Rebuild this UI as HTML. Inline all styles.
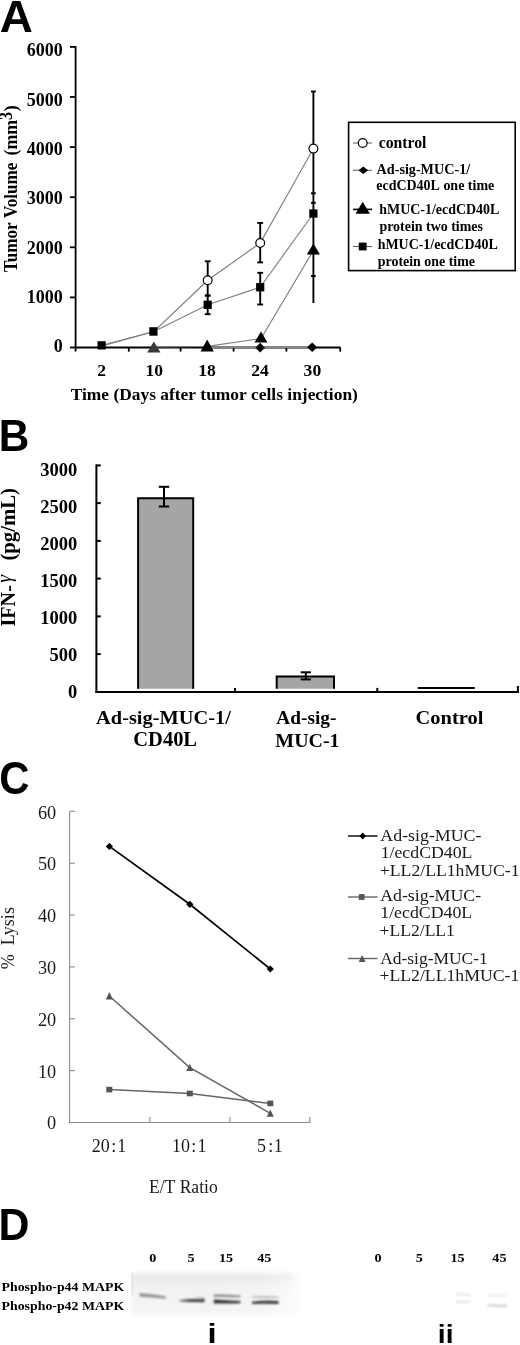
<!DOCTYPE html>
<html><head><meta charset="utf-8"><style>
html,body{margin:0;padding:0;background:#fff;width:520px;height:1345px;overflow:hidden}
svg{display:block;will-change:transform}
</style></head><body>
<svg width="520" height="1345" viewBox="0 0 520 1345">
<rect width="520" height="1345" fill="#fff"/>
<!-- PANEL A -->
<text font-family="'Liberation Sans', sans-serif" font-weight="bold" font-size="44.91" fill="#000" transform="translate(-0.24,31.70) scale(1.0222,1)">A</text>
<g stroke="#000" stroke-width="1.8" fill="none">
  <line x1="75.6" y1="46.2" x2="75.6" y2="351.4"/>
  <line x1="74.8" y1="347.5" x2="340.4" y2="347.5"/>
  <line x1="69.9" y1="347.5" x2="75.6" y2="347.5"/>
  <line x1="69.9" y1="297.4" x2="75.6" y2="297.4"/>
  <line x1="69.9" y1="247.3" x2="75.6" y2="247.3"/>
  <line x1="69.9" y1="197.2" x2="75.6" y2="197.2"/>
  <line x1="69.9" y1="147.1" x2="75.6" y2="147.1"/>
  <line x1="69.9" y1="97.0" x2="75.6" y2="97.0"/>
  <line x1="69.9" y1="46.9" x2="75.6" y2="46.9"/>
  <line x1="128.8" y1="347.5" x2="128.8" y2="351.6"/>
  <line x1="180.6" y1="347.5" x2="180.6" y2="351.6"/>
  <line x1="233.6" y1="347.5" x2="233.6" y2="351.6"/>
  <line x1="286.4" y1="347.5" x2="286.4" y2="351.6"/>
  <line x1="340.2" y1="347.5" x2="340.2" y2="351.6"/>
</g>
<text font-family="'Liberation Serif', serif" font-weight="bold" font-size="18.00" fill="#000" transform="translate(53.79,352.20) scale(1.0000,1)">0</text>
<text font-family="'Liberation Serif', serif" font-weight="bold" font-size="18.00" fill="#000" transform="translate(26.79,302.87) scale(1.0000,1)">1000</text>
<text font-family="'Liberation Serif', serif" font-weight="bold" font-size="18.00" fill="#000" transform="translate(26.79,253.54) scale(1.0000,1)">2000</text>
<text font-family="'Liberation Serif', serif" font-weight="bold" font-size="18.00" fill="#000" transform="translate(26.79,204.21) scale(1.0000,1)">3000</text>
<text font-family="'Liberation Serif', serif" font-weight="bold" font-size="18.00" fill="#000" transform="translate(26.79,154.88) scale(1.0000,1)">4000</text>
<text font-family="'Liberation Serif', serif" font-weight="bold" font-size="18.00" fill="#000" transform="translate(26.79,105.55) scale(1.0000,1)">5000</text>
<text font-family="'Liberation Serif', serif" font-weight="bold" font-size="18.00" fill="#000" transform="translate(26.79,56.22) scale(1.0000,1)">6000</text>
<text font-family="'Liberation Serif', serif" font-weight="bold" font-size="18.00" fill="#000" transform="translate(17.30,272.07) rotate(-90) scale(0.9503,1)">Tumor&#160;Volume</text>
<text font-family="'Liberation Serif', serif" font-weight="bold" font-size="18.00" fill="#000" transform="translate(17.30,155.48) rotate(-90) scale(0.9861,1)">(mm</text>
<text font-family="'Liberation Serif', serif" font-weight="bold" font-size="19.05" fill="#000" transform="translate(12.01,120.01) rotate(-90) scale(0.8458,1)">3</text>
<text font-family="'Liberation Serif', serif" font-weight="bold" font-size="18.00" fill="#000" transform="translate(17.30,111.18) rotate(-90) scale(0.9950,1)">)</text>
<text font-family="'Liberation Serif', serif" font-weight="bold" font-size="17.60" fill="#000" transform="translate(97.31,376.10) scale(1.0000,1)">2</text>
<text font-family="'Liberation Serif', serif" font-weight="bold" font-size="17.60" fill="#000" transform="translate(145.48,376.10) scale(1.0000,1)">10</text>
<text font-family="'Liberation Serif', serif" font-weight="bold" font-size="17.60" fill="#000" transform="translate(198.24,376.10) scale(1.0000,1)">18</text>
<text font-family="'Liberation Serif', serif" font-weight="bold" font-size="17.60" fill="#000" transform="translate(251.19,376.10) scale(1.0000,1)">24</text>
<text font-family="'Liberation Serif', serif" font-weight="bold" font-size="17.60" fill="#000" transform="translate(303.60,376.10) scale(1.0000,1)">30</text>
<text font-family="'Liberation Serif', serif" font-weight="bold" font-size="15.76" fill="#000" transform="translate(70.73,400.30) scale(1.1046,1)">Time&#160;(Days&#160;after&#160;tumor&#160;cells&#160;injection)</text>
<g stroke="#7c7c7c" stroke-width="1.1" fill="none">
  <polyline points="102,346 154,331.5 207.7,280.3 260.2,243 313.4,148.6"/>
  <polyline points="102,345.2 154,331.5 207.7,304.8 260.2,287.2 313.4,213.5"/>
  <polyline points="154,347.0 207.5,346.4 261,338.5 313.4,250.5"/>
  <line x1="207.5" y1="347.5" x2="313.4" y2="347.3" stroke-width="1.6" stroke="#888"/>
</g>
<g stroke="#000" stroke-width="1.9" fill="none">
  <line x1="207.7" y1="261.3" x2="207.7" y2="314.2"/>
  <line x1="204.8" y1="261.3" x2="210.6" y2="261.3"/>
  <line x1="204.8" y1="295.6" x2="210.6" y2="295.6" stroke-width="2.4"/>
  <line x1="204.8" y1="314.2" x2="210.6" y2="314.2"/>
  <line x1="260.2" y1="222.9" x2="260.2" y2="262.4"/>
  <line x1="257.3" y1="222.9" x2="263.1" y2="222.9"/>
  <line x1="257.3" y1="262.4" x2="263.1" y2="262.4"/>
  <line x1="260.2" y1="272.8" x2="260.2" y2="304.5"/>
  <line x1="257.3" y1="272.8" x2="263.1" y2="272.8"/>
  <line x1="257.3" y1="304.5" x2="263.1" y2="304.5"/>
  <line x1="313.4" y1="91.5" x2="313.4" y2="303"/>
  <line x1="311" y1="91.5" x2="315.8" y2="91.5"/>
  <line x1="311" y1="193.3" x2="315.8" y2="193.3"/>
  <line x1="311" y1="202.8" x2="315.8" y2="202.8"/>
  <line x1="311" y1="276.1" x2="315.8" y2="276.1"/>
</g>
<g fill="#000">
  <rect x="97.5" y="341.2" width="8.2" height="8.3"/>
  <rect x="149.3" y="327.2" width="8.2" height="8.5"/>
  <rect x="203.6" y="300.6" width="8.2" height="8.4"/>
  <rect x="256.1" y="283" width="8.2" height="8.4"/>
  <rect x="309.3" y="209.4" width="8.2" height="8.3"/>
  <polygon points="153.9,341.6 147.2,352.6 160.5,352.6" fill="#3a3a3a"/>
  <polygon points="207.2,339.6 200.5,351.5 213.8,351.5"/>
  <polygon points="261,331.6 254.5,342.5 267.5,342.5"/>
  <polygon points="313.4,243.5 306.8,254.6 320,254.6"/>
  <polygon points="260.2,342.8 265,347.7 260.2,352.6 255.4,347.7"/>
  <polygon points="312.2,342.5 317.3,347.3 312.2,352.1 307.1,347.3"/>
</g>
<g fill="#fff" stroke="#000" stroke-width="1.2">
  <circle cx="207.7" cy="280.3" r="4.4"/>
  <circle cx="260.2" cy="243" r="4.4"/>
  <circle cx="313.4" cy="148.6" r="4.4"/>
</g>
<rect x="348.6" y="122.3" width="166.6" height="148.3" fill="none" stroke="#000" stroke-width="1.6"/>
<g stroke="#666" stroke-width="1.1">
  <line x1="353" y1="143" x2="372" y2="143"/>
  <line x1="353" y1="170.3" x2="372" y2="170.3"/>
  <line x1="353" y1="209.4" x2="372" y2="209.4" stroke="#000" stroke-width="1.6"/>
  <line x1="353" y1="246.5" x2="372" y2="246.5"/>
</g>
<circle cx="362.7" cy="143" r="4.4" fill="#fff" stroke="#000" stroke-width="1.2"/>
<polygon points="363.3,166.6 368.1,170.3 363.3,174 358.5,170.3" fill="#000"/>
<polygon points="362.7,201.7 355.5,213.7 369.9,213.7" fill="#000"/>
<rect x="358.8" y="242.6" width="7.8" height="7.8" fill="#000"/>
<text font-family="'Liberation Serif', serif" font-weight="bold" font-size="15.85" fill="#000" transform="translate(378.66,148.00) scale(0.9934,1)">control</text>
<text font-family="'Liberation Serif', serif" font-weight="bold" font-size="14.10" fill="#000" transform="translate(376.56,174.20) scale(1.0052,1)">Ad-sig-MUC-1/</text>
<text font-family="'Liberation Serif', serif" font-weight="bold" font-size="14.10" fill="#000" transform="translate(376.22,189.50) scale(0.9924,1)">ecdCD40L&#160;one&#160;time</text>
<text font-family="'Liberation Serif', serif" font-weight="bold" font-size="14.10" fill="#000" transform="translate(379.25,213.70) scale(0.9895,1)">hMUC-1/ecdCD40L</text>
<text font-family="'Liberation Serif', serif" font-weight="bold" font-size="14.10" fill="#000" transform="translate(379.42,230.60) scale(0.9902,1)">protein&#160;two&#160;times</text>
<text font-family="'Liberation Serif', serif" font-weight="bold" font-size="14.10" fill="#000" transform="translate(377.65,249.40) scale(0.9895,1)">hMUC-1/ecdCD40L</text>
<text font-family="'Liberation Serif', serif" font-weight="bold" font-size="14.10" fill="#000" transform="translate(377.82,265.60) scale(0.9884,1)">protein&#160;one&#160;time</text>
<!-- PANEL B -->
<text font-family="'Liberation Sans', sans-serif" font-weight="bold" font-size="44.48" fill="#000" transform="translate(-1.33,450.80) scale(0.9511,1)">B</text>
<g stroke="#000" stroke-width="2" fill="none">
  <line x1="96.4" y1="464.5" x2="96.4" y2="693"/>
  <line x1="95.4" y1="692" x2="518.8" y2="692"/>
  <line x1="96.4" y1="465.4" x2="100.8" y2="465.4"/>
  <line x1="96.4" y1="503.1" x2="100.8" y2="503.1"/>
  <line x1="96.4" y1="540.9" x2="100.8" y2="540.9"/>
  <line x1="96.4" y1="578.6" x2="100.8" y2="578.6"/>
  <line x1="96.4" y1="616.4" x2="100.8" y2="616.4"/>
  <line x1="96.4" y1="654.1" x2="100.8" y2="654.1"/>
  <line x1="235" y1="687.9" x2="235" y2="692"/>
  <line x1="377.3" y1="687.9" x2="377.3" y2="692"/>
  <line x1="517.9" y1="686" x2="517.9" y2="693"/>
</g>
<text font-family="'Liberation Serif', serif" font-weight="bold" font-size="18.50" fill="#000" transform="translate(40.20,475.70) scale(1.0000,1)">3000</text>
<text font-family="'Liberation Serif', serif" font-weight="bold" font-size="18.50" fill="#000" transform="translate(40.20,512.80) scale(1.0000,1)">2500</text>
<text font-family="'Liberation Serif', serif" font-weight="bold" font-size="18.50" fill="#000" transform="translate(40.20,549.90) scale(1.0000,1)">2000</text>
<text font-family="'Liberation Serif', serif" font-weight="bold" font-size="18.50" fill="#000" transform="translate(40.20,587.00) scale(1.0000,1)">1500</text>
<text font-family="'Liberation Serif', serif" font-weight="bold" font-size="18.50" fill="#000" transform="translate(40.20,624.10) scale(1.0000,1)">1000</text>
<text font-family="'Liberation Serif', serif" font-weight="bold" font-size="18.50" fill="#000" transform="translate(49.45,661.20) scale(1.0000,1)">500</text>
<text font-family="'Liberation Serif', serif" font-weight="bold" font-size="18.50" fill="#000" transform="translate(67.95,698.30) scale(1.0000,1)">0</text>
<text font-family="'Liberation Serif', serif" font-weight="bold" font-size="20.62" fill="#000" transform="translate(14.90,626.48) rotate(-90) scale(0.9750,1)">IFN-</text>
<text font-style="italic" font-family="'Liberation Serif', serif" font-weight="normal" font-size="22.03" fill="#000" transform="translate(11.01,582.67) rotate(-90) scale(0.8963,1)">γ</text>
<text font-family="'Liberation Serif', serif" font-weight="bold" font-size="20.18" fill="#000" transform="translate(14.90,560.61) rotate(-90) scale(1.0284,1)">(pg/mL)</text>
<path d="M138.1,688.8 V498.2 H193.2 V688.8 Z" fill="#a5a5a5"/>
<path d="M138.1,688.8 V498.2 H193.2 V688.8" fill="none" stroke="#000" stroke-width="2"/>
<path d="M276.7,688.8 V676.4 H334 V688.8 Z" fill="#a5a5a5"/>
<path d="M276.7,688.8 V676.4 H334 V688.8" fill="none" stroke="#000" stroke-width="2"/>
<line x1="417.7" y1="688" x2="474.8" y2="688" stroke="#000" stroke-width="1.9"/>
<g stroke="#000" stroke-width="2" fill="none">
  <line x1="164" y1="486.8" x2="164" y2="506.5"/>
  <line x1="158.8" y1="486.8" x2="169.2" y2="486.8"/>
  <line x1="158.8" y1="506.5" x2="169.2" y2="506.5"/>
  <line x1="305.8" y1="672.3" x2="305.8" y2="679.4"/>
  <line x1="300.7" y1="672.3" x2="310.9" y2="672.3"/>
  <line x1="300.7" y1="679.4" x2="310.9" y2="679.4"/>
</g>
<text font-family="'Liberation Serif', serif" font-weight="bold" font-size="19.60" fill="#000" transform="translate(96.10,724.20) scale(1.0403,1)">Ad-sig-MUC-1/</text>
<text font-family="'Liberation Serif', serif" font-weight="bold" font-size="20.15" fill="#000" transform="translate(133.30,746.30) scale(1.0171,1)">CD40L</text>
<text font-family="'Liberation Serif', serif" font-weight="bold" font-size="19.60" fill="#000" transform="translate(276.31,724.20) scale(0.9854,1)">Ad-sig-</text>
<text font-family="'Liberation Serif', serif" font-weight="bold" font-size="19.79" fill="#000" transform="translate(275.36,746.80) scale(1.0069,1)">MUC-1</text>
<text font-family="'Liberation Serif', serif" font-weight="bold" font-size="19.74" fill="#000" transform="translate(415.50,724.00) scale(1.0371,1)">Control</text>
<!-- PANEL C -->
<text font-family="'Liberation Sans', sans-serif" font-weight="bold" font-size="45.62" fill="#000" transform="translate(-0.82,793.95) scale(0.9186,1)">C</text>
<g stroke="#8c8c8c" stroke-width="1.1" fill="none">
  <line x1="69.6" y1="811.3" x2="69.6" y2="1123"/>
  <line x1="69.1" y1="1122.5" x2="310.3" y2="1122.5"/>
  <line x1="69.6" y1="1070.6" x2="75" y2="1070.6"/>
  <line x1="69.6" y1="1018.8" x2="75" y2="1018.8"/>
  <line x1="69.6" y1="966.9" x2="75" y2="966.9"/>
  <line x1="69.6" y1="915.0" x2="75" y2="915.0"/>
  <line x1="69.6" y1="863.2" x2="75" y2="863.2"/>
  <line x1="69.6" y1="811.3" x2="75" y2="811.3"/>
  <line x1="149.9" y1="1117" x2="149.9" y2="1122.5"/>
  <line x1="230" y1="1117" x2="230" y2="1122.5"/>
  <line x1="309.8" y1="1117" x2="309.8" y2="1123"/>
</g>
<text font-family="'Liberation Serif', serif" font-weight="normal" font-size="18.30" fill="#1a1a1a" transform="translate(47.05,1129.35) scale(1.0000,1)">0</text>
<text font-family="'Liberation Serif', serif" font-weight="normal" font-size="18.30" fill="#1a1a1a" transform="translate(37.90,1077.55) scale(1.0000,1)">10</text>
<text font-family="'Liberation Serif', serif" font-weight="normal" font-size="18.30" fill="#1a1a1a" transform="translate(37.90,1025.75) scale(1.0000,1)">20</text>
<text font-family="'Liberation Serif', serif" font-weight="normal" font-size="18.30" fill="#1a1a1a" transform="translate(37.90,973.95) scale(1.0000,1)">30</text>
<text font-family="'Liberation Serif', serif" font-weight="normal" font-size="18.30" fill="#1a1a1a" transform="translate(37.90,922.15) scale(1.0000,1)">40</text>
<text font-family="'Liberation Serif', serif" font-weight="normal" font-size="18.30" fill="#1a1a1a" transform="translate(37.90,870.35) scale(1.0000,1)">50</text>
<text font-family="'Liberation Serif', serif" font-weight="normal" font-size="18.30" fill="#1a1a1a" transform="translate(37.90,818.55) scale(1.0000,1)">60</text>
<text font-family="'Liberation Serif', serif" font-weight="normal" font-size="18.04" fill="#1a1a1a" transform="translate(14.10,969.32) rotate(-90) scale(1.0019,1)">%&#160;&#160;Lysis</text>
<text font-family="'Liberation Serif', serif" font-weight="normal" font-size="18.00" fill="#1a1a1a" transform="translate(91.75,1152.10) scale(1.0000,1)">20</text>
<text font-family="'Liberation Serif', serif" font-weight="normal" font-size="18.00" fill="#1a1a1a" transform="translate(111.37,1152.10) scale(1.0000,1)">:</text>
<text font-family="'Liberation Serif', serif" font-weight="normal" font-size="18.00" fill="#1a1a1a" transform="translate(117.30,1152.10) scale(1.0000,1)">1</text>
<text font-family="'Liberation Serif', serif" font-weight="normal" font-size="18.00" fill="#1a1a1a" transform="translate(172.05,1152.10) scale(1.0000,1)">10</text>
<text font-family="'Liberation Serif', serif" font-weight="normal" font-size="18.00" fill="#1a1a1a" transform="translate(191.37,1152.10) scale(1.0000,1)">:</text>
<text font-family="'Liberation Serif', serif" font-weight="normal" font-size="18.00" fill="#1a1a1a" transform="translate(197.45,1152.10) scale(1.0000,1)">1</text>
<text font-family="'Liberation Serif', serif" font-weight="normal" font-size="18.00" fill="#1a1a1a" transform="translate(257.03,1152.10) scale(1.0000,1)">5</text>
<text font-family="'Liberation Serif', serif" font-weight="normal" font-size="18.00" fill="#1a1a1a" transform="translate(268.17,1152.10) scale(1.0000,1)">:</text>
<text font-family="'Liberation Serif', serif" font-weight="normal" font-size="18.00" fill="#1a1a1a" transform="translate(273.85,1152.10) scale(1.0000,1)">1</text>
<text font-family="'Liberation Serif', serif" font-weight="normal" font-size="18.58" fill="#1a1a1a" transform="translate(148.89,1192.60) scale(0.9468,1)">E/T&#160;Ratio</text>
<polyline points="109.4,846.4 189.8,904.3 270.3,969" stroke="#000" stroke-width="1.7" fill="none"/>
<polyline points="109.3,996 189.8,1067.6 270.3,1113.3" stroke="#666" stroke-width="1.5" fill="none"/>
<polyline points="109.3,1089.6 189.8,1093.5 270.3,1103.4" stroke="#666" stroke-width="1.5" fill="none"/>
<g fill="#000">
  <polygon points="109.4,842.8 113,846.4 109.4,850 105.8,846.4"/>
  <polygon points="189.8,900.7 193.4,904.3 189.8,907.9 186.2,904.3"/>
  <polygon points="270.3,965.4 273.9,969 270.3,972.6 266.7,969"/>
</g>
<g fill="#555">
  <polygon points="109.3,992.1 105.8,999.4 112.8,999.4"/>
  <polygon points="189.8,1063.7 186.3,1071 193.3,1071"/>
  <polygon points="270.3,1109.5 266.8,1116.8 273.8,1116.8"/>
  <rect x="106.3" y="1086.8" width="6" height="5.6"/>
  <rect x="186.8" y="1090.7" width="6" height="5.6"/>
  <rect x="267.3" y="1100.6" width="6" height="5.6"/>
</g>
<line x1="348" y1="836" x2="377.5" y2="836" stroke="#000" stroke-width="1.4"/>
<polygon points="362.7,832.6 366.1,836 362.7,839.4 359.3,836" fill="#000"/>
<line x1="348" y1="897" x2="377.5" y2="897" stroke="#666" stroke-width="1.4"/>
<rect x="358.8" y="894.1" width="5.8" height="5.8" fill="#555"/>
<line x1="348" y1="958.5" x2="377.5" y2="958.5" stroke="#666" stroke-width="1.4"/>
<polygon points="362.1,955 358.6,962 365.6,962" fill="#555"/>
<text font-family="'Liberation Serif', serif" font-weight="normal" font-size="15.80" fill="#1a1a1a" transform="translate(380.33,840.80) scale(1.1294,1)">Ad-sig-MUC-</text>
<text font-family="'Liberation Serif', serif" font-weight="normal" font-size="15.80" fill="#1a1a1a" transform="translate(380.64,858.20) scale(1.1264,1)">1/ecdCD40L</text>
<text font-family="'Liberation Serif', serif" font-weight="normal" font-size="15.80" fill="#1a1a1a" transform="translate(379.82,875.50) scale(1.1201,1)">+LL2/LL1hMUC-1</text>
<text font-family="'Liberation Serif', serif" font-weight="normal" font-size="15.80" fill="#1a1a1a" transform="translate(380.13,900.60) scale(1.1294,1)">Ad-sig-MUC-</text>
<text font-family="'Liberation Serif', serif" font-weight="normal" font-size="15.80" fill="#1a1a1a" transform="translate(380.23,918.20) scale(1.1289,1)">1/ecdCD40L</text>
<text font-family="'Liberation Serif', serif" font-weight="normal" font-size="15.80" fill="#1a1a1a" transform="translate(379.52,935.60) scale(1.1141,1)">+LL2/LL1</text>
<text font-family="'Liberation Serif', serif" font-weight="normal" font-size="15.80" fill="#1a1a1a" transform="translate(380.13,964.40) scale(1.1056,1)">Ad-sig-MUC-1</text>
<text font-family="'Liberation Serif', serif" font-weight="normal" font-size="15.80" fill="#1a1a1a" transform="translate(379.52,981.30) scale(1.1209,1)">+LL2/LL1hMUC-1</text>
<!-- PANEL D -->
<text font-family="'Liberation Sans', sans-serif" font-weight="bold" font-size="44.33" fill="#000" transform="translate(-1.57,1239.70) scale(0.9673,1)">D</text>
<defs>
  <linearGradient id="blotfade" x1="0" x2="1" y1="0" y2="0">
    <stop offset="0" stop-color="#000" stop-opacity="0.045"/>
    <stop offset="0.75" stop-color="#000" stop-opacity="0.04"/>
    <stop offset="1" stop-color="#000" stop-opacity="0.01"/>
  </linearGradient>
  <linearGradient id="blotv" x1="0" x2="0" y1="0" y2="1">
    <stop offset="0" stop-color="#000" stop-opacity="0.045"/>
    <stop offset="0.5" stop-color="#000" stop-opacity="0.01"/>
    <stop offset="1" stop-color="#000" stop-opacity="0"/>
  </linearGradient>
  <filter id="blur1" x="-20%" y="-100%" width="140%" height="300%"><feGaussianBlur stdDeviation="0.8"/></filter>
  <filter id="blur2" x="-20%" y="-20%" width="140%" height="140%"><feGaussianBlur stdDeviation="2"/></filter>
</defs>
<rect x="132" y="1273" width="168" height="42" fill="url(#blotfade)" filter="url(#blur2)"/>
<rect x="132" y="1273" width="160" height="30" fill="url(#blotv)" filter="url(#blur2)"/>
<rect x="131.5" y="1273" width="1.6" height="22" fill="#d8d8d8" filter="url(#blur1)"/>
<g filter="url(#blur1)">
  <path d="M139.5,1293.2 Q152,1293.6 166,1296.6 L166,1298.6 Q152,1297.2 139.5,1296.4 Z" fill="#8e8e8e"/>
  <path d="M179.2,1300.4 Q190,1298.6 204.6,1298.6 L204.6,1302.2 Q190,1302.3 179.2,1301.2 Z" fill="#4a4a4a"/>
  <path d="M195,1296.8 Q200,1296 204.5,1296.3 L204.5,1297.8 Q200,1297.8 195,1297.9 Z" fill="#cfcfcf"/>
  <path d="M213.8,1294.6 Q227,1294.2 240.4,1295.4 L240.4,1297.5 Q227,1296.8 213.8,1297.1 Z" fill="#8a8a8a"/>
  <path d="M213.8,1299.6 Q227,1300.4 240.4,1301 L240.4,1303.2 Q227,1303.6 213.8,1303.4 Z" fill="#363636"/>
  <path d="M252,1296.4 Q265,1295.8 278.5,1296.4 L278.5,1298 Q265,1297.6 252,1298 Z" fill="#b4b4b4"/>
  <path d="M252,1301.8 Q265,1299.8 278.5,1301 L278.5,1304 Q265,1303.6 252,1304 Z" fill="#3c3c3c"/>
  <path d="M456,1293.5 L471,1294 L471,1295.4 L456,1295 Z" fill="#dedede"/>
  <path d="M456,1301 L471,1301.4 L471,1302.8 L456,1302.4 Z" fill="#d8d8d8"/>
  <path d="M488,1294.6 L506.5,1295 L506.5,1296.4 L488,1296 Z" fill="#e4e4e4"/>
  <path d="M488,1304.4 L507,1305.2 L507,1307 L488,1306.2 Z" fill="#c4c4c4"/>
</g>
<text font-family="'Liberation Serif', serif" font-weight="bold" font-size="12.60" fill="#000" transform="translate(149.17,1261.50) scale(1.1200,1)">0</text>
<text font-family="'Liberation Serif', serif" font-weight="bold" font-size="12.60" fill="#000" transform="translate(187.50,1261.50) scale(1.1200,1)">5</text>
<text font-family="'Liberation Serif', serif" font-weight="bold" font-size="12.60" fill="#000" transform="translate(218.89,1261.50) scale(1.1200,1)">15</text>
<text font-family="'Liberation Serif', serif" font-weight="bold" font-size="12.60" fill="#000" transform="translate(257.21,1261.50) scale(1.1200,1)">45</text>
<text font-family="'Liberation Serif', serif" font-weight="bold" font-size="12.60" fill="#000" transform="translate(374.52,1261.50) scale(1.1200,1)">0</text>
<text font-family="'Liberation Serif', serif" font-weight="bold" font-size="12.60" fill="#000" transform="translate(415.85,1261.50) scale(1.1200,1)">5</text>
<text font-family="'Liberation Serif', serif" font-weight="bold" font-size="12.60" fill="#000" transform="translate(450.44,1261.50) scale(1.1200,1)">15</text>
<text font-family="'Liberation Serif', serif" font-weight="bold" font-size="12.60" fill="#000" transform="translate(492.36,1261.50) scale(1.1200,1)">45</text>
<text font-family="'Liberation Serif', serif" font-weight="bold" font-size="13.26" fill="#000" transform="translate(1.56,1291.40) scale(1.0437,1)">Phospho-p44&#160;MAPK</text>
<text font-family="'Liberation Serif', serif" font-weight="bold" font-size="13.26" fill="#000" transform="translate(1.56,1309.50) scale(1.0437,1)">Phospho-p42&#160;MAPK</text>
<text font-family="'Liberation Sans', sans-serif" font-weight="bold" font-size="26.91" fill="#000" transform="translate(207.41,1343.20) scale(1.2187,1)">i</text>
<text font-family="'Liberation Sans', sans-serif" font-weight="bold" font-size="26.64" fill="#000" transform="translate(437.83,1343.10) scale(1.0584,1)">ii</text>
</svg>
</body></html>
